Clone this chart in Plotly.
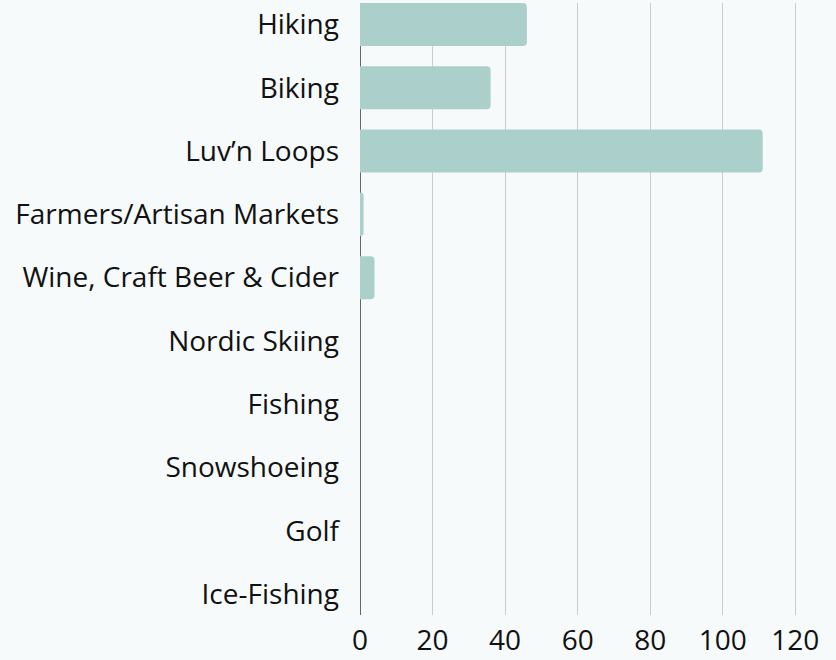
import plotly.graph_objects as go

categories = ["Hiking", "Biking", "Luv\u2019n Loops", "Farmers/Artisan Markets",
              "Wine, Craft Beer & Cider", "Nordic Skiing", "Fishing",
              "Snowshoeing", "Golf", "Ice-Fishing"]
values = [46, 36, 111, 1, 4, 0, 0, 0, 0, 0]
x_ticks = [0, 20, 40, 60, 80, 100, 120]

fig = go.Figure(go.Bar(
    y=categories, x=values, orientation="h",
    marker=dict(color="#abcfcb", line=dict(width=0)),
    width=0.68,
))

fig.update_layout(
    width=836, height=660,
    paper_bgcolor="#f6fafb", plot_bgcolor="#f6fafb",
    margin=dict(l=360, r=0, t=3, b=45),
    barcornerradius=4,
    showlegend=False,
    font=dict(family="Open Sans", size=28, color="#111111"),
)
fig.update_xaxes(
    range=[0, 131.2], tickvals=x_ticks, ticktext=[str(v) for v in x_ticks],
    showgrid=True, gridcolor="#cccccc", gridwidth=1,
    zeroline=True, zerolinecolor="#666666", zerolinewidth=1,
    showline=False, ticks="", ticklabelstandoff=6,
)
fig.update_yaxes(
    categoryorder="array", categoryarray=categories,
    range=[9.33, -0.34], showgrid=False, zeroline=False,
    showline=False, ticks="", ticklabelstandoff=20,
)

fig.write_html("out.html", config={"displayModeBar": False},
               post_script="document.body.style.margin='0';document.body.style.background='#f6fafb';")
